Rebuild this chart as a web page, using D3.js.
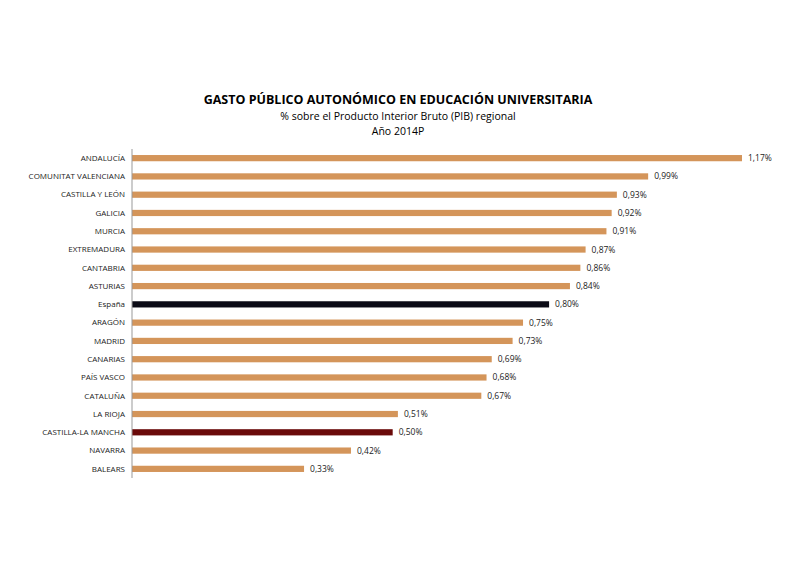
<!DOCTYPE html>
<html><head><meta charset="utf-8">
<script src="https://cdn.jsdelivr.net/npm/d3@7"></script>
<style>body{margin:0;background:#fff}</style>
</head><body>
<svg id="c" width="800" height="572"></svg>
<script>
const categories = ["ANDALUCÍA","COMUNITAT VALENCIANA","CASTILLA Y LEÓN","GALICIA","MURCIA","EXTREMADURA","CANTABRIA","ASTURIAS","España","ARAGÓN","MADRID","CANARIAS","PAÍS VASCO","CATALUÑA","LA RIOJA","CASTILLA-LA MANCHA","NAVARRA","BALEARS"];
const values = [1.17,0.99,0.93,0.92,0.91,0.87,0.86,0.84,0.80,0.75,0.73,0.69,0.68,0.67,0.51,0.50,0.42,0.33];
const titleLines = ["GASTO PÚBLICO AUTONÓMICO EN EDUCACIÓN UNIVERSITARIA","% sobre el Producto Interior Bruto (PIB) regional","Año 2014P"];

const svg = d3.select("#c");
const font = "'Open Sans', Calibri, sans-serif";
const x = d3.scaleLinear().domain([0, 1.17]).range([132, 742]);
const y = d3.scaleBand().domain(categories).range([149, 478]).paddingInner(0.66).paddingOuter(0.33);
const color = c => c === "España" ? "#0b0b16" : c === "CASTILLA-LA MANCHA" ? "#6a0a0a" : "#d4955a";

svg.append("text").attr("x", 398).attr("y", 104).attr("text-anchor","middle")
  .attr("font-family", font).attr("font-size", 12.5).attr("font-weight","bold").text(titleLines[0]);
svg.append("text").attr("x", 398).attr("y", 120).attr("text-anchor","middle")
  .attr("font-family", font).attr("font-size", 10.5).text(titleLines[1]);
svg.append("text").attr("x", 398).attr("y", 135).attr("text-anchor","middle")
  .attr("font-family", font).attr("font-size", 10.5).text(titleLines[2]);

svg.selectAll("rect.bar").data(categories).join("rect").attr("class","bar")
  .attr("x", x(0)).attr("y", d => y(d)).attr("height", y.bandwidth())
  .attr("width", (d,i) => x(values[i]) - x(0)).attr("fill", color);

svg.selectAll("text.lab").data(categories).join("text").attr("class","lab")
  .attr("x", 125).attr("y", d => y(d) + y.bandwidth()/2).attr("dy","0.35em")
  .attr("text-anchor","end").attr("font-family", font).attr("font-size", 8).attr("fill","#222")
  .text(d => d);

svg.selectAll("text.val").data(categories).join("text").attr("class","val")
  .attr("x", (d,i) => x(values[i]) + 6).attr("y", d => y(d) + y.bandwidth()/2).attr("dy","0.35em")
  .attr("font-family", font).attr("font-size", 8.5).attr("fill","#222")
  .text((d,i) => values[i].toFixed(2).replace(".", ",") + "%");

svg.append("line").attr("x1", x(0)).attr("x2", x(0)).attr("y1", 149).attr("y2", 478)
  .attr("stroke","#999").attr("stroke-width",1);
</script>
</body></html>
